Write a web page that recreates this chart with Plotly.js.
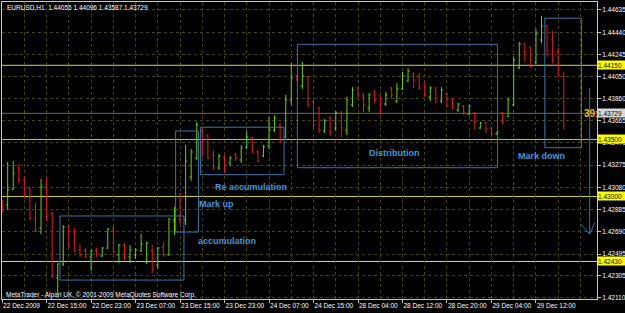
<!DOCTYPE html>
<html><head><meta charset="utf-8">
<script src="https://cdn.plot.ly/plotly-3.0.1.min.js"></script>
<style>html,body{margin:0;padding:0;background:#000;}#chart{width:625px;height:313px;}</style>
</head><body><div id="chart"></div>
<script>
// EURUSD H1 bars (22 Dec 2009 07:00 ... 29 Dec 2009)
const opens = [1.42951,1.42925,1.43065,1.43250,1.43144,1.43074,1.42802,1.42723,1.43083,1.42846,
1.42285,1.42408,1.42732,1.42688,1.42530,1.42522,1.42469,1.42530,1.42478,1.42548,
1.42715,1.42487,1.42574,1.42469,1.42487,1.42522,1.42425,1.42522,1.42399,1.42557,
1.42487,1.42794,1.42802,1.42794,1.43171,1.43337,1.43574,1.43530,1.43364,1.43250,
1.43346,1.43293,1.43364,1.43320,1.43434,1.43513,1.43390,1.43355,1.43443,1.43583,
1.43627,1.43521,1.43846,1.44056,1.43969,1.44048,1.43828,1.43776,1.43574,1.43688,
1.43600,1.43732,1.43583,1.43802,1.43951,1.43881,1.43776,1.43890,1.43881,1.43811,
1.43951,1.43837,1.43942,1.44013,1.44074,1.44056,1.43978,1.43872,1.43951,1.43837,
1.43899,1.43855,1.43758,1.43793,1.43723,1.43732,1.43600,1.43653,1.43600,1.43548,
1.43732,1.43697,1.43802,1.44127,1.44337,1.44311,1.44179,1.44372,1.44495,1.44372,
1.44267,1.44055];
const highs = [1.42969,1.43302,1.43311,1.43285,1.43171,1.43083,1.42943,1.43153,1.43171,1.42864,
1.42416,1.42750,1.42750,1.42723,1.42583,1.42548,1.42530,1.42548,1.42557,1.42723,
1.42741,1.42583,1.42592,1.42574,1.42548,1.42671,1.42601,1.42574,1.42557,1.42601,
1.42811,1.42908,1.43030,1.43451,1.43416,1.43653,1.43592,1.43548,1.43407,1.43372,
1.43364,1.43355,1.43381,1.43451,1.43574,1.43521,1.43407,1.43451,1.43697,1.43714,
1.43644,1.43890,1.44170,1.44065,1.44179,1.44056,1.43846,1.43785,1.43679,1.43706,
1.43750,1.43750,1.43872,1.43960,1.43960,1.43907,1.43907,1.43934,1.43890,1.43916,
1.43960,1.43995,1.44092,1.44127,1.44092,1.44083,1.44004,1.43969,1.43960,1.43960,
1.43907,1.43864,1.43820,1.43802,1.43802,1.43741,1.43653,1.43653,1.43609,1.43574,
1.43741,1.43864,1.44223,1.44355,1.44346,1.44311,1.44469,1.44583,1.44504,1.44451,
1.44302,1.44096];
const lows = [1.42855,1.42881,1.43057,1.43118,1.42986,1.42794,1.42688,1.42671,1.42785,1.42285,
1.42153,1.42390,1.42548,1.42513,1.42469,1.42460,1.42346,1.42469,1.42469,1.42539,
1.42504,1.42416,1.42443,1.42416,1.42452,1.42513,1.42408,1.42329,1.42364,1.42469,
1.42478,1.42662,1.42759,1.42750,1.43136,1.43320,1.43346,1.43329,1.43232,1.43232,
1.43206,1.43267,1.43311,1.43293,1.43416,1.43381,1.43302,1.43346,1.43416,1.43565,
1.43469,1.43513,1.43802,1.44013,1.43942,1.43785,1.43592,1.43557,1.43557,1.43530,
1.43574,1.43521,1.43539,1.43785,1.43872,1.43741,1.43741,1.43820,1.43714,1.43793,
1.43855,1.43820,1.43934,1.44004,1.43951,1.43934,1.43872,1.43837,1.43820,1.43820,
1.43785,1.43767,1.43741,1.43714,1.43714,1.43583,1.43592,1.43557,1.43530,1.43539,
1.43635,1.43697,1.43793,1.44118,1.44179,1.44127,1.44162,1.44346,1.44223,1.44170,
1.44048,1.43587];
const closes = [1.42916,1.43057,1.43206,1.43144,1.43074,1.42811,1.42697,1.43083,1.42794,1.42302,
1.42408,1.42732,1.42566,1.42522,1.42487,1.42469,1.42522,1.42504,1.42548,1.42715,
1.42513,1.42574,1.42460,1.42530,1.42530,1.42583,1.42592,1.42425,1.42548,1.42487,
1.42802,1.42802,1.42776,1.43311,1.43390,1.43627,1.43478,1.43337,1.43250,1.43355,
1.43276,1.43337,1.43337,1.43425,1.43521,1.43390,1.43311,1.43434,1.43583,1.43688,
1.43486,1.43846,1.44039,1.44021,1.44056,1.43802,1.43627,1.43583,1.43662,1.43557,
1.43732,1.43600,1.43846,1.43934,1.43881,1.43802,1.43890,1.43846,1.43811,1.43890,
1.43890,1.43942,1.44056,1.44100,1.44021,1.43951,1.43890,1.43951,1.43828,1.43934,
1.43793,1.43776,1.43811,1.43732,1.43793,1.43653,1.43644,1.43592,1.43548,1.43565,
1.43644,1.43846,1.44197,1.44337,1.44267,1.44197,1.44425,1.44495,1.44276,1.44267,
1.44056,1.43729];

const timeTickIdx = [0,8,16,24,32,40,48,56,64,72,80,88,96];
const timeTickText = ["22 Dec 2009","22 Dec 15:00","22 Dec 23:00","23 Dec 07:00","23 Dec 15:00",
  "23 Dec 23:00","24 Dec 07:00","24 Dec 15:00","28 Dec 04:00","28 Dec 12:00","28 Dec 20:00",
  "29 Dec 04:00","29 Dec 12:00"];
const priceTicks = [1.44635,1.44440,1.44245,1.44050,1.43860,1.43665,1.43470,1.43275,1.43080,
  1.42885,1.42690,1.42495,1.42305,1.42110];
const levelPrices = [1.44150,1.43500,1.43000,1.42430];
const levelColors = ['#cfcf7a','#c8c830','#d0d020','#e6e600'];
const bidPrice = 1.43729;

// Wyckoff phase boxes
const zoneNames = ["accumulation","Mark up","Re accumulation","Distribution","Mark down"];
const zoneX0 = [10.4, 31.2, 35.7, 53.1, 97.6];
const zoneX1 = [32.7, 35.3, 50.7, 89.1, 104.2];
const zoneY0 = [1.42267, 1.42688, 1.43191, 1.43252, 1.43428];
const zoneY1 = [1.42829, 1.43574, 1.43607, 1.44334, 1.44563];
const zoneLabelX = [34.8, 35.0, 37.9, 65.7, 92.4];
const zoneLabelY = [1.42609, 1.42938, 1.43079, 1.43381, 1.43355];

const idx = opens.map((_, i) => i);
const FONT = 'Liberation Sans, Arial, sans-serif';
const boxColor = 'rgb(58,118,168)';
const textBlue = 'rgb(70,150,215)';
const gridCol = '#45451c';

const trace = {
  type: 'ohlc', x: idx, open: opens, high: highs, low: lows, close: closes,
  increasing: {line: {color: '#6ccf10', width: 1}},
  decreasing: {line: {color: '#e51c1c', width: 1}},
  tickwidth: 0.3, hoverinfo: 'skip', showlegend: false
};

const shapes = [];
levelPrices.forEach((p, k) => shapes.push({type: 'line', xref: 'paper', x0: 0, x1: 1, yref: 'y', y0: p, y1: p,
  line: {color: levelColors[k], width: 1}, layer: 'below'}));
shapes.push({type: 'line', xref: 'paper', x0: 0, x1: 1, yref: 'y', y0: bidPrice, y1: bidPrice,
  line: {color: '#6a6a5a', width: 1}, layer: 'below'});
zoneNames.forEach((n, k) => shapes.push({type: 'rect', xref: 'x', yref: 'y', x0: zoneX0[k], x1: zoneX1[k],
  y0: zoneY0[k], y1: zoneY1[k], line: {color: boxColor, width: 1}, fillcolor: 'rgba(0,0,0,0)'}));
// mark-down arrow
shapes.push({type: 'line', xref: 'x', yref: 'y', x0: 105.66, x1: 105.66, y0: 1.43951, y1: 1.42671,
  line: {color: boxColor, width: 1}});
shapes.push({type: 'path', xref: 'x', yref: 'y', path: 'M 104.04,1.42759 L 105.66,1.42671 L 106.6,1.42770',
  line: {color: boxColor, width: 1}});

const annotations = [];
zoneNames.forEach((n, k) => annotations.push({xref: 'x', yref: 'y', x: zoneLabelX[k], y: zoneLabelY[k],
  text: n, showarrow: false, xanchor: 'left', yanchor: 'middle',
  font: {family: FONT, size: 9, color: textBlue, weight: 'bold'}}));
annotations.push({xref: 'paper', yref: 'paper', x: 0.005, y: 0.983, xanchor: 'left', yanchor: 'middle',
  text: 'EURUSD,H1  1.44055 1.44096 1.43587 1.43729', showarrow: false,
  font: {family: FONT, size: 6.5, color: '#ffffff'}});
annotations.push({xref: 'paper', yref: 'paper', x: 0.003, y: 0.014, xanchor: 'left', yanchor: 'middle',
  text: 'MetaTrader - Alpari UK, © 2001-2009 MetaQuotes Software Corp.', showarrow: false,
  font: {family: FONT, size: 6.5, color: '#ffffff'}});
levelPrices.forEach(p => annotations.push({xref: 'paper', yref: 'y', x: 1, y: p, xanchor: 'left', yanchor: 'middle',
  text: p.toFixed(5), showarrow: false, bgcolor: '#ffff00', width: 27, height: 8, align: 'left', borderpad: 0,
  font: {family: FONT, size: 6.5, color: '#000000'}}));
annotations.push({xref: 'paper', yref: 'y', x: 1, y: bidPrice, xanchor: 'left', yanchor: 'middle',
  text: bidPrice.toFixed(5), showarrow: false, bgcolor: '#d8d8d8', width: 27, height: 8, align: 'left', borderpad: 0,
  font: {family: FONT, size: 6.5, color: '#000000'}});
annotations.push({xref: 'x', yref: 'y', x: 104.3, y: bidPrice, xanchor: 'left', yanchor: 'middle',
  text: '39:', showarrow: false, font: {family: FONT, size: 10, color: '#e8b820', weight: 'bold'}});

const layout = {
  width: 625, height: 313,
  margin: {l: 2, r: 28, t: 2, b: 14},
  paper_bgcolor: '#000000', plot_bgcolor: '#000000',
  showlegend: false,
  font: {family: FONT, size: 6.5, color: '#ffffff'},
  xaxis: {
    range: [-0.02, 106.98], fixedrange: true,
    rangeslider: {visible: false},
    tickmode: 'array', tickvals: timeTickIdx, ticktext: timeTickText,
    ticklabelposition: 'outside right', tickangle: 0,
    ticks: 'outside', ticklen: 3, tickcolor: '#c0c0c0',
    tickfont: {family: FONT, size: 6.5, color: '#ffffff'},
    showgrid: true, gridcolor: gridCol, griddash: '3px,3px', gridwidth: 1,
    minor: {tickmode: 'linear', tick0: 0, dtick: 4, showgrid: true, gridcolor: gridCol, griddash: '3px,3px', ticks: ''},
    showline: true, linecolor: '#c8c8c8', linewidth: 1, mirror: true, zeroline: false
  },
  yaxis: {
    side: 'right', range: [1.42101, 1.44705], fixedrange: true,
    tickmode: 'array', tickvals: priceTicks, ticktext: priceTicks.map(v => v.toFixed(5)),
    ticks: 'outside', ticklen: 3, tickcolor: '#c0c0c0',
    tickfont: {family: FONT, size: 6.5, color: '#ffffff'},
    showgrid: true, gridcolor: gridCol, griddash: '3px,3px', gridwidth: 1,
    showline: true, linecolor: '#c8c8c8', linewidth: 1, mirror: true, zeroline: false
  },
  shapes: shapes,
  annotations: annotations
};

Plotly.newPlot('chart', [trace], layout, {displayModeBar: false, staticPlot: true});
</script>
</body></html>
